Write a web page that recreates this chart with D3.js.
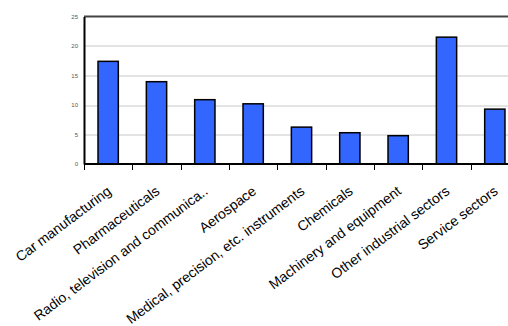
<!DOCTYPE html>
<html>
<head>
<meta charset="utf-8">
<script src="https://cdn.jsdelivr.net/npm/d3@7"></script>
<style>
  body { margin: 0; background: #fff; overflow: hidden; }
  svg { display: block; }
</style>
</head>
<body>
<script>
var sectors = ["Car manufacturing", "Pharmaceuticals", "Radio, television and communica..",
    "Aerospace", "Medical, precision, etc. instruments", "Chemicals",
    "Machinery and equipment", "Other industrial sectors", "Service sectors"];
var shares = [17.4, 13.95, 10.9, 10.2, 6.25, 5.3, 4.8, 21.5, 9.3];
var yTicks = [0, 5, 10, 15, 20, 25];

var margin = {top: 16.5, left: 84};
var width = 435;
var height = 147.5;

var svg = d3.select("body")
    .append("svg")
        .attr("width", 508)
        .attr("height", 326);

var g = svg.append("g")
    .attr("transform", "translate(" + margin.left + ", " + margin.top + ")");

var x = d3.scaleBand().domain(sectors).range([0, width]).paddingInner(0.58).paddingOuter(0.29);
var y = d3.scaleLinear().domain([0, 25]).range([height, 0]);

// gridlines
g.selectAll(".grid")
    .data(yTicks.filter((d) => { return d > 0 && d < 25; }))
    .enter().append("line")
        .attr("x1", 0)
        .attr("x2", width)
        .attr("y1", (d) => { return Math.round(y(d)) + 0.5; })
        .attr("y2", (d) => { return Math.round(y(d)) + 0.5; })
        .attr("stroke", "#c8c8c8")
        .attr("stroke-width", 1);

// top frame line
g.append("line")
    .attr("x1", 0).attr("x2", width)
    .attr("y1", y(25)).attr("y2", y(25))
    .attr("stroke", "#444")
    .attr("stroke-width", 2.2);

// bars
g.selectAll("rect")
    .data(shares)
    .enter().append("rect")
        .attr("x", (d, i) => { return x(sectors[i]); })
        .attr("y", (d) => { return y(d); })
        .attr("width", x.bandwidth())
        .attr("height", (d) => { return height - y(d); })
        .attr("fill", "#3366ff")
        .attr("stroke", "#000")
        .attr("stroke-width", 1.5);

// y axis
var leftAxis = d3.axisLeft(y).tickValues(yTicks).tickSize(0).tickPadding(6);
var yAxisGroup = g.append("g").call(leftAxis);
yAxisGroup.select(".domain").attr("stroke", "#000").attr("stroke-width", 2);
yAxisGroup.selectAll("text")
    .attr("font-family", "Liberation Sans, Arial, sans-serif")
    .attr("font-size", "6px")
    .attr("fill", "#555");

// x axis: ticks at category boundaries
var xAxisGroup = g.append("g").attr("transform", "translate(0, " + height + ")");
xAxisGroup.append("line")
    .attr("x1", 0).attr("x2", width)
    .attr("stroke", "#000").attr("stroke-width", 2);
var step = x.step();
xAxisGroup.selectAll(".tick")
    .data(d3.range(sectors.length + 1))
    .enter().append("line")
        .attr("x1", (d) => { return Math.round(d * step) + 0.5; })
        .attr("x2", (d) => { return Math.round(d * step) + 0.5; })
        .attr("y1", 0)
        .attr("y2", 6)
        .attr("stroke", "#000")
        .attr("stroke-width", 1);

// rotated category labels
xAxisGroup.selectAll(".label")
    .data(sectors)
    .enter().append("text")
        .attr("transform", (d) => {
            return "translate(" + (x(d) + x.bandwidth() / 2 + 4) + ", 29) rotate(-37)";
        })
        .attr("text-anchor", "end")
        .attr("font-family", "Liberation Sans, Arial, sans-serif")
        .attr("font-size", "14px")
        .attr("fill", "#000")
        .text((d) => { return d; });
</script>
</body>
</html>
